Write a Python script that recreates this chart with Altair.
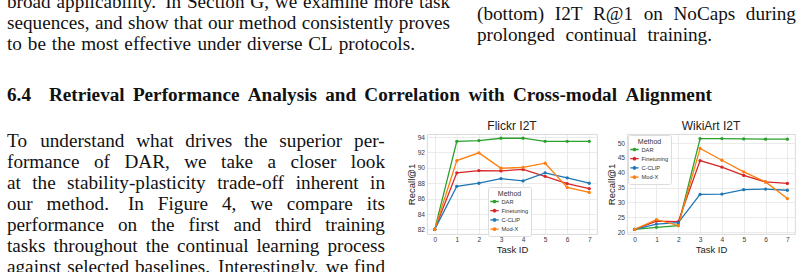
import altair as alt
import pandas as pd

# ---------------- page text ----------------
TOP_LEFT = [
    "broad applicability. In Section G, we examine more task",
    "sequences, and show that our method consistently proves",
    "to be the most effective under diverse CL protocols.",
]
CAPTION = [
    "(bottom) I2T R@1 on NoCaps during",
    "prolonged continual training.",
]
HEADING_NUM = "6.4"
HEADING_TITLE = "Retrieval Performance Analysis and Correlation with Cross-modal Alignment"
PARAGRAPH = [
    "To understand what drives the superior per-",
    "formance of DAR, we take a closer look",
    "at the stability-plasticity trade-off inherent in",
    "our method. In Figure 4, we compare its",
    "performance on the first and third training",
    "tasks throughout the continual learning process",
    "against selected baselines. Interestingly, we find",
]

# ---------------- chart data ----------------
TASKS = [0, 1, 2, 3, 4, 5, 6, 7]
METHODS = ["DAR", "Finetuning", "C-CLIP", "Mod-X"]
COLORS = ["#2ca02c", "#d62728", "#1f77b4", "#ff7f0e"]

FLICKR_DAR = [82.0, 93.45, 93.55, 93.85, 93.85, 93.45, 93.45, 93.45]
FLICKR_FT = [82.0, 89.35, 89.65, 89.6, 89.8, 88.9, 87.95, 87.3]
FLICKR_CCLIP = [82.0, 87.6, 88.0, 88.6, 88.3, 89.35, 88.7, 88.0]
FLICKR_MODX = [82.0, 90.95, 91.95, 89.95, 90.05, 90.6, 87.45, 86.8]
FLICKR_TICKS = [82, 84, 86, 88, 90, 92, 94]

WIKI_DAR = [20.9, 21.6, 22.2, 51.5, 51.5, 51.4, 51.3, 51.3]
WIKI_FT = [20.9, 23.7, 23.5, 44.1, 41.9, 39.1, 36.9, 36.4]
WIKI_CCLIP = [20.9, 22.7, 23.2, 32.7, 32.8, 34.3, 34.5, 34.1]
WIKI_MODX = [20.9, 24.2, 22.2, 48.2, 44.2, 40.3, 36.9, 31.3]
WIKI_TICKS = [20, 25, 30, 35, 40, 45, 50]

# ---------------- text layout helpers ----------------
FONT = 19.2
SERIF = "Liberation Serif"
SANS = "Liberation Sans"

REG = {" ": 250, "!": 333, "(": 333, ")": 333, ",": 250, "-": 333, ".": 250, "/": 278,
       ":": 278, ";": 278, "?": 444, "@": 921,
       "A": 722, "B": 667, "C": 667, "D": 722, "E": 611, "F": 556, "G": 722, "H": 722,
       "I": 333, "J": 389, "K": 722, "L": 611, "M": 889, "N": 722, "O": 722, "P": 556,
       "Q": 722, "R": 667, "S": 556, "T": 611, "U": 722, "V": 722, "W": 944, "X": 722,
       "Y": 722, "Z": 611,
       "a": 444, "b": 500, "c": 444, "d": 500, "e": 444, "f": 333, "g": 500, "h": 500,
       "i": 278, "j": 278, "k": 500, "l": 278, "m": 778, "n": 500, "o": 500, "p": 500,
       "q": 500, "r": 333, "s": 389, "t": 278, "u": 500, "v": 500, "w": 722, "x": 500,
       "y": 500, "z": 444}
BOLD = dict(REG)
BOLD.update({"A": 722, "C": 722, "E": 667, "F": 611, "G": 778, "H": 778, "I": 389,
             "P": 611, "R": 722, "-": 333,
             "a": 500, "b": 556, "d": 556, "h": 556, "j": 333, "k": 556, "m": 833,
             "n": 556, "p": 556, "q": 556, "r": 444, "t": 333, "u": 556})
for d in "0123456789":
    REG[d] = 500
    BOLD[d] = 500


def width(s, bold=False):
    table = BOLD if bold else REG
    return sum(table.get(c, 500) for c in s) / 1000.0 * FONT


def place_line(line, x0, x1, y, bold=False):
    """Spread the words of one line so that it runs from x0 to x1."""
    words = line.split(" ")
    widths = [width(w, bold) for w in words]
    weights = [1.35 if w.endswith(".") else 1.0 for w in words[:-1]]
    unit = (x1 - x0 - sum(widths)) / sum(weights) if weights else 0
    out = []
    x = x0
    for i, w in enumerate(words):
        out.append({"word": w, "x": x, "y": y, "bold": bold})
        if i < len(weights):
            x += widths[i] + unit * weights[i]
    return out


LINE_H = 21
TOP_RIGHT_EDGES = [450, 450, 415]
CAPTION_EDGES = [796, 712]

top_words = []
for i, (line, x1) in enumerate(zip(TOP_LEFT, TOP_RIGHT_EDGES)):
    top_words += place_line(line, 7, x1, 7.5 + i * LINE_H)
for i, (line, x1) in enumerate(zip(CAPTION, CAPTION_EDGES)):
    top_words += place_line(line, 477, x1, 19.5 + i * LINE_H)
top_words += place_line(HEADING_NUM, 7, 40, 101, bold=True)
top_words += place_line(HEADING_TITLE, 49, 712, 101, bold=True)
top_df = pd.DataFrame(top_words)

para_words = []
for i, line in enumerate(PARAGRAPH):
    para_words += place_line(line, 7, 385, 13 + i * LINE_H)
para_df = pd.DataFrame(para_words)


def text_block(df, w, h, clip):
    enc = dict(
        x=alt.X("x:Q", scale=None, axis=None),
        y=alt.Y("y:Q", scale=None, axis=None),
        text="word:N",
    )
    base = alt.Chart(df)
    reg = base.transform_filter("!datum.bold").mark_text(
        align="left", baseline="alphabetic", font=SERIF, fontSize=FONT,
        color="#111111", clip=clip).encode(**enc)
    bold = base.transform_filter("datum.bold").mark_text(
        align="left", baseline="alphabetic", font=SERIF, fontSize=FONT,
        fontWeight="bold", color="#111111", clip=clip).encode(**enc)
    return alt.layer(reg, bold).properties(width=w, height=h)


# ---------------- line panels ----------------
LEGEND_SYMBOL = "M-1.4,0L1.4,0M-0.4,0A0.4,0.4,0,1,1,0.4,0A0.4,0.4,0,1,1,-0.4,0Z"


def panel(title, series, y_domain, y_ticks, legend_x, legend_y, w):
    rows = []
    for m, vals in zip(METHODS, series):
        for t, v in zip(TASKS, vals):
            rows.append({"task": t, "recall": v, "method": m})
    df = pd.DataFrame(rows)
    x = alt.X("task:Q",
              scale=alt.Scale(domain=[-0.35, 7.35], nice=False, zero=False),
              axis=alt.Axis(values=TASKS, format="d", title="Task ID"))
    y = alt.Y("recall:Q",
              scale=alt.Scale(domain=y_domain, nice=False, zero=False),
              axis=alt.Axis(values=y_ticks, title="Recall@1"))
    color = alt.Color(
        "method:N", sort=METHODS,
        scale=alt.Scale(domain=METHODS, range=COLORS),
        legend=alt.Legend(
            title="Method", orient="none", legendX=legend_x, legendY=legend_y,
            titleFontSize=7, labelFontSize=5.7, titleFontWeight="normal",
            titleFont=SANS, labelFont=SANS, titleColor="#333333", labelColor="#333333",
            titleAnchor="middle", titlePadding=1, padding=2.5, rowPadding=1.2,
            symbolType=LEGEND_SYMBOL, symbolSize=36, symbolStrokeWidth=1.3,
            labelOffset=3, strokeColor="#dcdcdc", fillColor="rgba(255,255,255,0.85)",
            cornerRadius=2),
    )
    return (
        alt.Chart(df)
        .mark_line(strokeWidth=1.3, point=alt.OverlayMarkDef(filled=True, size=11))
        .encode(x=x, y=y, color=color)
        .properties(
            width=w, height=100,
            title=alt.TitleParams(title, fontSize=12, font=SANS, fontWeight="normal",
                                  color="#222222", offset=1),
            view=alt.ViewBackground(stroke="#d6d6d6", strokeWidth=0.9),
        )
    )


flickr = panel("Flickr I2T", [FLICKR_DAR, FLICKR_FT, FLICKR_CCLIP, FLICKR_MODX],
               [81.4, 94.4], FLICKR_TICKS, 61, 53, 170)
wiki = panel("WikiArt I2T", [WIKI_DAR, WIKI_FT, WIKI_CCLIP, WIKI_MODX],
             [19.35, 53.05], WIKI_TICKS, 1, 1, 168)

row = (
    alt.hconcat(text_block(para_df, 397, 100, False), flickr, wiki,
                spacing=30, bounds="flush")
    .resolve_scale(color="independent")
    .resolve_legend(color="independent")
)
chart = (
    alt.vconcat(text_block(top_df, 804, 134, True), row, spacing=0, bounds="flush")
    .resolve_scale(color="independent")
    .resolve_legend(color="independent")
    .properties(padding=0, background="white")
    .configure_view(stroke=None)
    .configure_axis(
        labelFont=SANS, titleFont=SANS, labelFontSize=6.6, titleFontSize=9.5,
        titleFontWeight="normal", labelColor="#3a3a3a", titleColor="#222222",
        gridColor="#e6e6e6", gridWidth=0.8, domain=False, ticks=False,
        labelPadding=2.5, titlePadding=1,
    )
)

chart.save("out.html", embed_options={"renderer": "svg", "actions": False})
